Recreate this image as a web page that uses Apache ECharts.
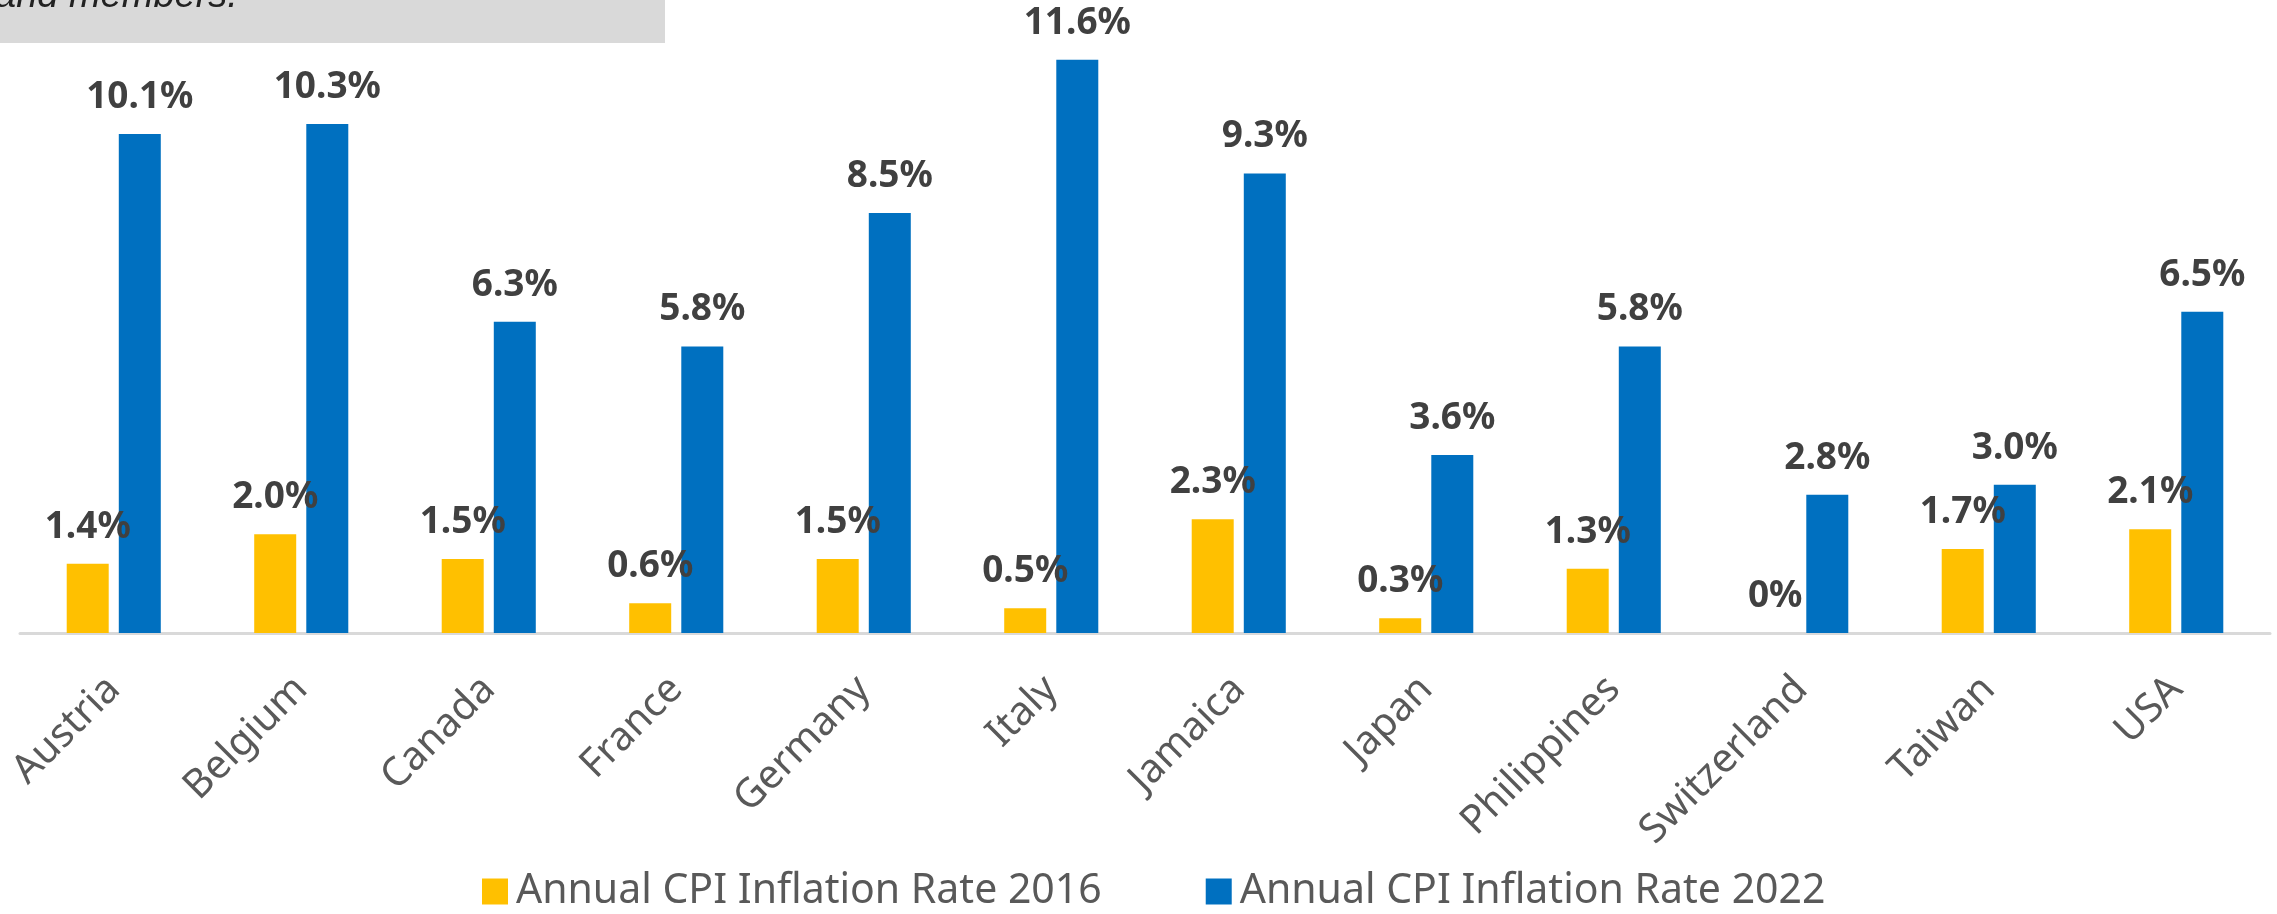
<!DOCTYPE html>
<html>
<head>
<meta charset="utf-8">
<script src="https://cdn.jsdelivr.net/npm/echarts@6/dist/echarts.min.js"></script>
<style>
  html, body { margin: 0; padding: 0; background: #fff; }
  #chart { width: 2277px; height: 914px; }
</style>
</head>
<body>
<div id="chart"></div>
<script>
// 国家
const countries = ["Austria", "Belgium", "Canada", "France", "Germany", "Italy",
  "Jamaica", "Japan", "Philippines", "Switzerland", "Taiwan", "USA"];
// 2016 年通胀率 (%)
const cpi2016 = [1.4, 2.0, 1.5, 0.6, 1.5, 0.5, 2.3, 0.3, 1.3, 0, 1.7, 2.1];
// 2022 年通胀率 (%)
const cpi2022 = [10.1, 10.3, 6.3, 5.8, 8.5, 11.6, 9.3, 3.6, 5.8, 2.8, 3.0, 6.5];
const seriesNames = ["Annual CPI Inflation Rate 2016", "Annual CPI Inflation Rate 2022"];

const chart = echarts.init(document.getElementById("chart"));

function pct(p) {
  return p.value === 0 ? "0%" : p.value.toFixed(1) + "%";
}

const labelStyle = {
  show: true,
  position: "top",
  distance: 18,
  formatter: pct,
  color: "#404040",
  fontFamily: "Noto Sans",
  fontWeight: "bold",
  fontSize: 37
};

chart.setOption({
  animation: false,
  graphic: [
    {
      type: "rect",
      shape: { x: 0, y: 0, width: 665, height: 43 },
      style: { fill: "#D9D9D9" },
      z: 10
    },
    {
      type: "text",
      left: -5,
      top: -23,
      style: {
        text: "and members.",
        fill: "#222",
        font: "italic 38px 'Liberation Sans'"
      },
      z: 11
    }
  ],
  grid: {
    left: 20,
    right: 7,
    top: 40,
    bottom: 281 // 轴线在 y=633
  },
  legend: {
    data: seriesNames,
    left: 477,
    top: 866,
    itemWidth: 26,
    itemHeight: 26,
    itemGap: 104,
    icon: "rect",
    textStyle: {
      color: "#595959",
      fontFamily: "Noto Sans",
      fontSize: 41,
      padding: [0, 0, 0, 3]
    }
  },
  xAxis: {
    type: "category",
    data: countries,
    axisTick: { show: false },
    axisLine: { lineStyle: { color: "#D9D9D9", width: 3 } },
    axisLabel: {
      rotate: 45,
      margin: 50,
      interval: 0,
      color: "#595959",
      fontFamily: "Noto Sans",
      fontSize: 40
    }
  },
  yAxis: {
    type: "value",
    min: 0,
    max: 12,
    show: false,
    splitLine: { show: false }
  },
  series: [
    {
      name: seriesNames[0],
      type: "bar",
      data: cpi2016,
      barWidth: 42,
      barGap: "24%",
      itemStyle: { color: "#FFC000" },
      label: labelStyle
    },
    {
      name: seriesNames[1],
      type: "bar",
      data: cpi2022,
      barWidth: 42,
      barGap: "24%",
      itemStyle: { color: "#0070C0" },
      label: labelStyle
    }
  ]
});
</script>
</body>
</html>
